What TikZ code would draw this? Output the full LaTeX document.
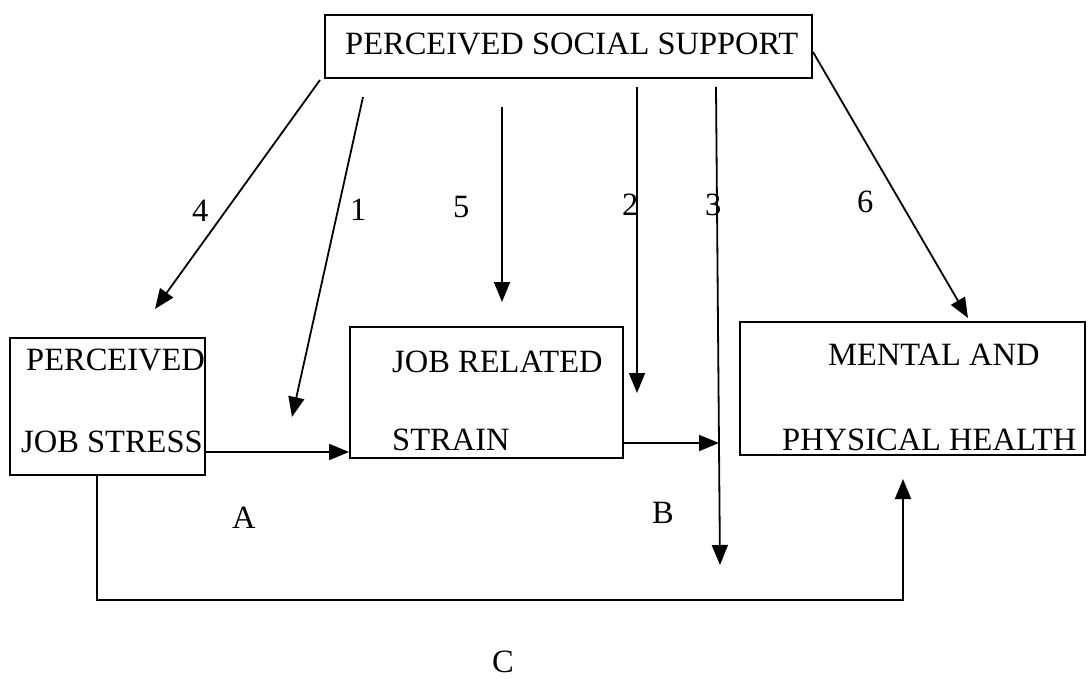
\documentclass[tikz,border=0pt]{standalone}
\usepackage{fontspec}
\setmainfont{Liberation Serif}
\usetikzlibrary{arrows.meta}
\begin{document}
\begin{tikzpicture}[x=1pt,y=-1pt,
  box/.style={draw,line width=1.8pt,inner sep=0pt,rectangle},
  lbl/.style={inner sep=0pt,anchor=base west,font=\fontsize{32.5}{38}\selectfont},
  arr/.style={line width=1.8pt,-{Triangle[length=20pt,width=16pt]}},
  ln/.style={line width=1.8pt}]
\useasboundingbox (0,0) rectangle (1089,679);
% boxes
\node[box,minimum width=487pt,minimum height=63pt] (pss) at (568.5,46.5) {};
\node[box,minimum width=195pt,minimum height=137pt] (js) at (107.5,406.5) {};
\node[box,minimum width=273pt,minimum height=131pt] (jr) at (486.5,392.5) {};
\node[box,minimum width=345pt,minimum height=133pt] (mh) at (912.5,388.5) {};
% texts
\node[lbl] (tpss) at (345,55) {PERCEIVED SOCIAL SUPPORT};
\node[lbl] (tjs1) at (26,370) {PERCEIVED};
\node[lbl] (tjs2) at (21,452) {JOB STRESS};
\node[lbl] (tjr1) at (392,372) {JOB RELATED};
\node[lbl] (tjr2) at (392,450) {STRAIN};
\node[lbl] (tmh1) at (828,365) {MENTAL AND};
\node[lbl] (tmh2) at (782,450) {PHYSICAL HEALTH};
% numbers and letters
\node[lbl] (n4) at (192,222) {4};
\node[lbl] (n1) at (350,220) {1};
\node[lbl] (n5) at (453,218) {5};
\node[lbl] (n2) at (622,215) {2};
\node[lbl] (n3) at (705,215) {3};
\node[lbl] (n6) at (857,212) {6};
\node[lbl] (la) at (232,528) {A};
\node[lbl] (lb) at (652,523) {B};
\node[lbl] (lc) at (492,672) {C};
% coordinates
\coordinate (s4) at (320,80);
\coordinate (e4) at (155,309);
\coordinate (s1) at (363,97);
\coordinate (e1) at (292,417);
\coordinate (s5) at (502,107);
\coordinate (e5) at (502,302);
\coordinate (s2) at (637,87);
\coordinate (e2) at (637,393);
\coordinate (s3) at (716,87);
\coordinate (e3) at (720,565);
\coordinate (s6) at (813,52);
\coordinate (e6) at (968,318);
\coordinate (m3) at (719,443);
\coordinate (cl) at (97,600);
\coordinate (cr) at (903,600);
\coordinate (cu) at (903,479);
% arrows from social support
\draw[arr] (s4) -- (e4);
\draw[arr] (s1) -- (e1);
\draw[arr] (s5) -- (e5);
\draw[arr] (s2) -- (e2);
\draw[arr] (s3) -- (e3);
\draw[arr] (s6) -- (e6);
% main path
\draw[arr] (js.east |- 0,452) -- (jr.west |- 0,452);
\draw[arr] (jr.east |- m3) -- (m3);
\draw[arr] (js.south -| cl) -- (cl) -- (cr) -- (cu);
\end{tikzpicture}
\end{document}
